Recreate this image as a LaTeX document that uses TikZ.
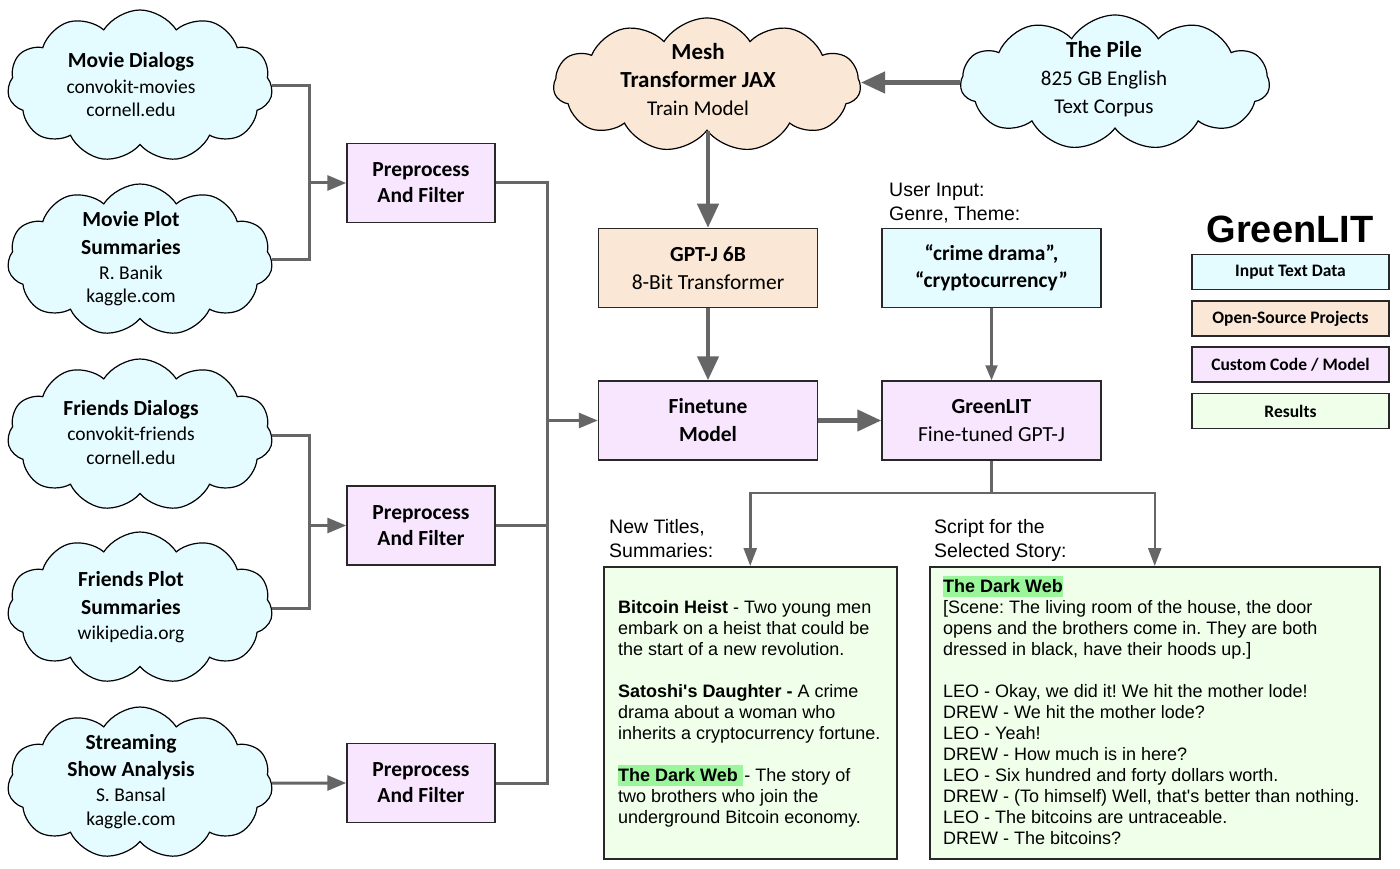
\documentclass[tikz,border=0pt]{standalone}
\usepackage{fontspec}
\setmainfont{Liberation Sans}[Ligatures=TeXOff]
\newfontfamily\calib{Carlito}
\usetikzlibrary{shapes.symbols,arrows.meta}
\definecolor{cyanf}{RGB}{228,252,255}
\definecolor{beigef}{RGB}{250,231,214}
\definecolor{lavf}{RGB}{248,230,255}
\definecolor{greenf}{RGB}{240,255,234}
\definecolor{hlgreen}{RGB}{155,245,155}
\definecolor{lnc}{RGB}{102,102,102}
\definecolor{edgec}{RGB}{40,40,40}
\newcommand{\hlbox}[2][0pt]{{\setlength{\fboxsep}{0pt}\colorbox{hlgreen}{\rule[-4.5pt]{0pt}{21pt}\textbf{#2}\hspace{#1}}}}
\frenchspacing
\begin{document}
\begin{tikzpicture}[x=1pt,y=-1pt,
  cloudst/.style={cloud, cloud puffs=11, cloud puff arc=115, aspect=1.8, draw=black, line width=1.2pt, minimum width=265, minimum height=152, inner sep=0pt},
  ctext/.style={align=center, inner sep=0pt, font=\calib\fontsize{19.5}{23.5}\selectfont},
  mtext/.style={align=center, inner sep=0pt, font=\calib\fontsize{21}{28}\selectfont},
  boxst/.style={draw=edgec, line width=1.5pt, align=center, inner sep=0pt, font=\calib\fontsize{21.5}{28}\selectfont},
  conn/.style={draw=lnc, line width=3pt},
  arrB/.style={conn, -{Triangle[length=19pt,width=15pt]}},
  arrA/.style={draw=lnc, line width=4.5pt, -{Triangle[length=24pt,width=21pt]}},
  arrC/.style={draw=lnc, line width=2.5pt, -{Triangle[length=18pt,width=13pt]}},
  arrD/.style={draw=lnc, line width=2.2pt, -{Triangle[length=15pt,width=12pt]}},
  lbl/.style={align=left, inner sep=0pt, anchor=north west, font=\fontsize{19.5}{24}\selectfont},
  restext/.style={align=left, inner sep=0pt, anchor=north west, font=\fontsize{18}{21}\selectfont},
  legbox/.style={draw=edgec, line width=1.5pt, minimum width=197, minimum height=35, inner sep=0pt, font=\calib\bfseries\fontsize{17.5}{20}\selectfont}
]
\useasboundingbox (0,0) rectangle (1400,869);
\fill[white] (0,0) rectangle (1400,869);

% clouds
\node[cloudst, fill=cyanf] (c1) at (140,86) {};
\node[ctext] (c1t) at (131,84.5) {{\bfseries\fontsize{21.5}{26}\selectfont Movie Dialogs}\\[2.5pt] convokit-movies\\ cornell.edu};
\node[cloudst, fill=cyanf] (c2) at (140,260) {};
\node[ctext] (c2t) at (131,258.5) {{\bfseries\fontsize{21.5}{26}\selectfont Movie Plot}\\[4.5pt]{\bfseries\fontsize{21.5}{26}\selectfont Summaries}\\[1.5pt] R. Banik\\ kaggle.com};
\node[cloudst, fill=cyanf] (c3) at (140,435) {};
\node[ctext] (c3t) at (131,432.5) {{\bfseries\fontsize{21.5}{26}\selectfont Friends Dialogs}\\[1.5pt] convokit-friends\\ cornell.edu};
\node[cloudst, fill=cyanf] (c4) at (140,608) {};
\node[ctext] (c4t) at (131,607) {{\bfseries\fontsize{21.5}{26}\selectfont Friends Plot}\\[4.5pt]{\bfseries\fontsize{21.5}{26}\selectfont Summaries}\\[2pt] wikipedia.org};
\node[cloudst, fill=cyanf] (c5) at (140,783) {};
\node[ctext] (c5t) at (131,781.5) {{\bfseries\fontsize{21.5}{26}\selectfont Streaming}\\[3.5pt]{\bfseries\fontsize{21.5}{26}\selectfont Show Analysis}\\[1.5pt] S. Bansal\\ kaggle.com};

\node[cloudst, fill=beigef, minimum width=307, minimum height=134] (mesh) at (707,85) {};
\node[mtext] (mesht) at (698,80) {{\bfseries\fontsize{23}{28}\selectfont Mesh}\\{\bfseries\fontsize{23}{28}\selectfont Transformer JAX}\\ Train Model};
\node[cloudst, fill=cyanf, minimum width=309, minimum height=135] (pile) at (1115,82.5) {};
\node[mtext] (pilet) at (1104,79.5) {{\bfseries\fontsize{23}{28}\selectfont The Pile}\\ 825 GB English\\ Text Corpus};

% preprocess boxes
\node[boxst, fill=lavf, minimum width=148, minimum height=79, font=\calib\bfseries\fontsize{21.5}{26}\selectfont] (p1) at (421,183) {Preprocess\\And Filter};
\node[boxst, fill=lavf, minimum width=148, minimum height=79, font=\calib\bfseries\fontsize{21.5}{26}\selectfont] (p2) at (421,525.5) {Preprocess\\And Filter};
\node[boxst, fill=lavf, minimum width=148, minimum height=79, font=\calib\bfseries\fontsize{21.5}{26}\selectfont] (p3) at (421,783) {Preprocess\\And Filter};

% model boxes
\node[boxst, fill=beigef, minimum width=219, minimum height=79] (gpt) at (708,268) {{\bfseries GPT-J 6B}\\ 8-Bit Transformer};
\node[boxst, fill=lavf, minimum width=219, minimum height=79, font=\calib\bfseries\fontsize{21.5}{28}\selectfont] (ft) at (708,420.5) {Finetune\\Model};
\node[boxst, fill=lavf, minimum width=219, minimum height=79] (gl) at (991.5,420.5) {{\bfseries GreenLIT}\\ Fine-tuned GPT-J};
\node[boxst, fill=cyanf, minimum width=219, minimum height=79, font=\calib\bfseries\fontsize{21.5}{27}\selectfont] (ui) at (991.5,268) {“crime drama”,\\“cryptocurrency”};

% labels
\node[lbl] (uil) at (889,183) {User Input:\\Genre, Theme:};
\node[lbl] (ntl) at (609,519) {New Titles,\\Summaries:};
\node[lbl] (scl) at (934,519) {Script for the\\Selected Story:};

% result boxes
\node[draw=edgec, line width=1.5pt, fill=greenf, minimum width=293, minimum height=292, anchor=north west, inner sep=0pt] (r1) at (603,566) {};
\node[draw=edgec, line width=1.5pt, fill=greenf, minimum width=450, minimum height=292, anchor=north west, inner sep=0pt] (r2) at (929,566) {};
\node[restext] (r1t) at (618,598) {\rule{0pt}{15pt}\textbf{Bitcoin Heist} - Two young men\\ embark on a heist that could be\\ the start of a new revolution.\\[21pt]
\textbf{Satoshi's Daughter -} A crime\\ drama about a woman who\\ inherits a cryptocurrency fortune.\\[21pt]
\hlbox[5pt]{The Dark Web}\hspace{1.5pt}- The story of\\ two brothers who join the\\ underground Bitcoin economy.};
\node[restext] (r2t) at (943,575.5) {\hlbox{The Dark Web}\\
{[}Scene: The living room of the house, the door\\
opens and the brothers come in. They are both\\
dressed in black, have their hoods up.]\\[21pt]
LEO - Okay, we did it! We hit the mother lode!\\
DREW - We hit the mother lode?\\
LEO - Yeah!\\
DREW - How much is in here?\\
LEO - Six hundred and forty dollars worth.\\
DREW - (To himself) Well, that's better than nothing.\\
LEO - The bitcoins are untraceable.\\
DREW - The bitcoins?};

% legend
\node[font=\bfseries\fontsize{38}{40}\selectfont, inner sep=0pt] (lt) at (1290,229) {GreenLIT};
\node[legbox, fill=cyanf] (l1) at (1290.5,272) {Input Text Data};
\node[legbox, fill=beigef] (l2) at (1290.5,318.5) {Open-Source Projects};
\node[legbox, fill=lavf] (l3) at (1290.5,364.5) {Custom Code / Model};
\node[legbox, fill=greenf] (l4) at (1290.5,411) {Results};

% connectors
\coordinate (j1) at (309,183);
\draw[conn] (c1.east) -| (j1) |- (c2.east);
\draw[arrB] (j1) -- (p1.west);
\coordinate (j2) at (309,525.5);
\draw[conn] (c3.east) -| (j2) |- (c4.east);
\draw[arrB] (j2) -- (p2.west);
\draw[arrB] (c5.east) -- (p3.west);
\coordinate (bus) at (547,420.5);
\draw[conn] (p1.east) -| (bus);
\draw[conn] (p3.east) -| (bus);
\draw[conn] (p2.east) -- (p2.east -| bus);
\draw[arrB] (bus) -- (ft.west);
\draw[arrA] (mesh.south -| gpt.north) -- (gpt.north);
\draw[arrA] (pile.west) -- (pile.west -| mesh.east);
\draw[arrA] (gpt.south) -- (ft.north);
\draw[arrA] (ft.east) -- (gl.west);
\draw[arrD] (ui.south) -- (gl.north);
\draw[arrC] (gl.south) -- ++(0,32) -| (r1.north);
\draw[arrC] (gl.south) -- ++(0,32) -| (r2.north);
\end{tikzpicture}
\end{document}
